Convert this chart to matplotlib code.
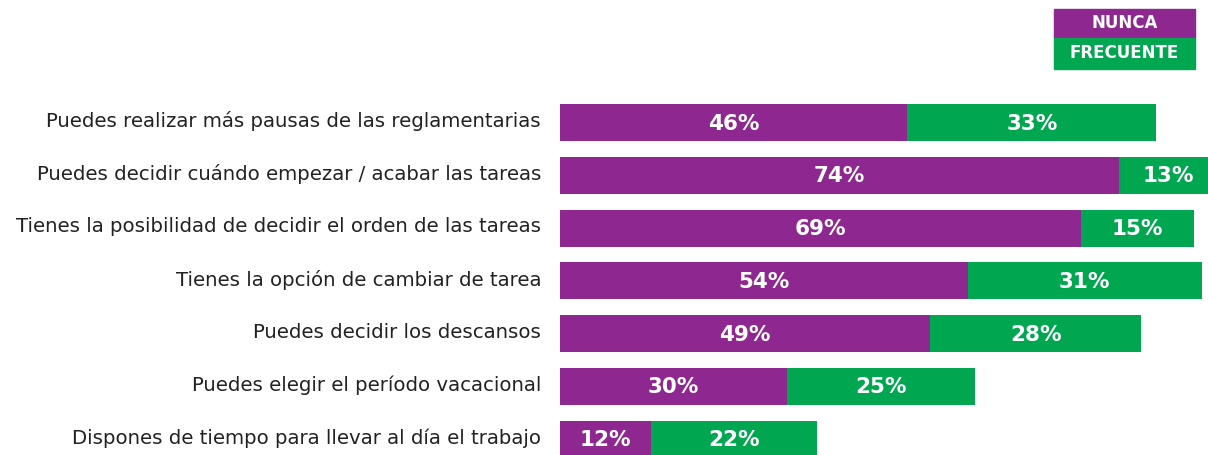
import numpy as np
import matplotlib.pyplot as plt

# data
categories = [
    "Puedes realizar más pausas de las reglamentarias",
    "Puedes decidir cuándo empezar / acabar las tareas",
    "Tienes la posibilidad de decidir el orden de las tareas",
    "Tienes la opción de cambiar de tarea",
    "Puedes decidir los descansos",
    "Puedes elegir el período vacacional",
    "Dispones de tiempo para llevar al día el trabajo",
]
nunca = [46, 74, 69, 54, 49, 30, 12]
frecuente = [33, 13, 15, 31, 28, 25, 22]
series_names = ["NUNCA", "FRECUENTE"]

purple = "#8E278F"
green = "#00A650"

plt.rcParams['font.family'] = ['DejaVu Sans']

fig = plt.figure(figsize=(12.08, 4.55), dpi=100)
ax = fig.add_axes([560 / 1208, 0, 648 / 1208, 1])
ax.set_xlim(0, 648 / 7.55)
ax.set_ylim(6.30, -2.32)
ax.axis("off")

y = np.arange(len(categories))
ax.barh(y, nunca, height=0.7, color=purple)
ax.barh(y, frecuente, left=nunca, height=0.7, color=green)

for i in range(len(categories)):
    ax.text(nunca[i] / 2, y[i] + 0.02, f"{nunca[i]}%", ha="center", va="center",
            color="white", fontsize=15.5, fontweight="bold")
    ax.text(nunca[i] + frecuente[i] / 2, y[i] + 0.02, f"{frecuente[i]}%", ha="center",
            va="center", color="white", fontsize=15.5, fontweight="bold")
    ax.text(-2.5, y[i] - 0.02, categories[i], ha="right", va="center",
            color="#222222", fontsize=14.2)

# legend boxes
fig.patches.append(plt.Rectangle((1054 / 1208, 1 - 38 / 455), 141 / 1208, 29 / 455,
                                 transform=fig.transFigure, color=purple))
fig.patches.append(plt.Rectangle((1054 / 1208, 1 - 69 / 455), 141 / 1208, 31 / 455,
                                 transform=fig.transFigure, color=green))
fig.text(1124.5 / 1208, 1 - 23 / 455, series_names[0], ha="center", va="center",
         color="white", fontsize=12, fontweight="bold")
fig.text(1124.5 / 1208, 1 - 53 / 455, series_names[1], ha="center", va="center",
         color="white", fontsize=12, fontweight="bold")

fig.savefig("out.png", dpi=100)
